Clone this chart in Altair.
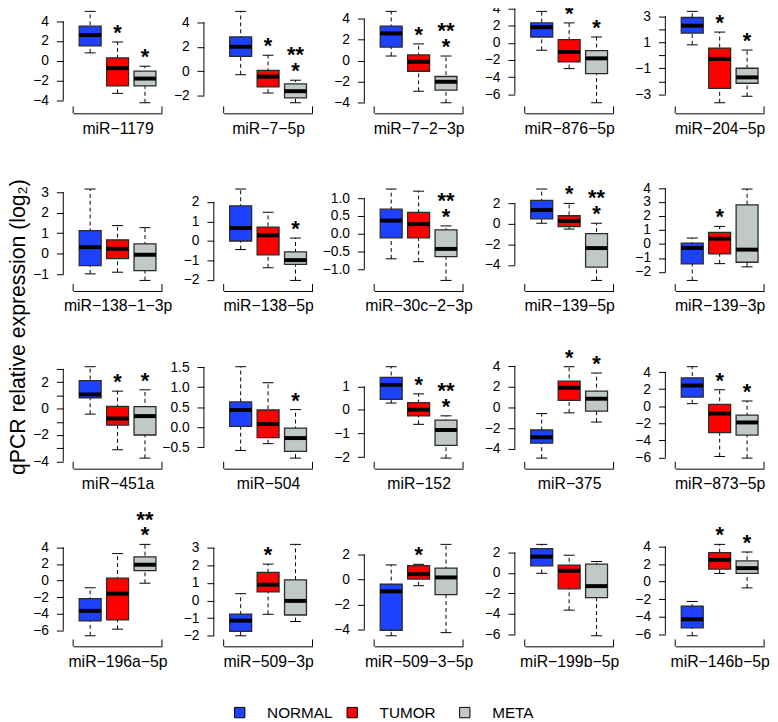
import altair as alt
import pandas as pd

NAMES = ["miR-1179", "miR-7-5p", "miR-7-2-3p", "miR-876-5p", "miR-204-5p",
         "miR-138-1-3p", "miR-138-5p", "miR-30c-2-3p", "miR-139-5p", "miR-139-3p",
         "miR-451a", "miR-504", "miR-152", "miR-375", "miR-873-5p",
         "miR-196a-5p", "miR-509-3p", "miR-509-3-5p", "miR-199b-5p", "miR-146b-5p"]

# [min, q1, median, q3, max]
NORMAL = [[0.8, 1.5, 2.6, 3.5, 5.0], [-0.3, 1.2, 2.0, 2.8, 4.9], [0.45, 1.3, 2.6, 3.3, 4.7],
          [-0.85, 0.7, 1.85, 2.35, 3.7], [0.8, 1.7, 2.27, 2.9, 3.37],
          [-0.98, -0.58, 0.32, 1.13, 3.15], [-0.44, 0.0, 0.66, 1.8, 2.66], [-0.71, -0.12, 0.37, 0.69, 1.26],
          [0.07, 0.5, 1.35, 2.3, 3.4], [-2.6, -1.42, -0.28, 0.07, 0.43],
          [-0.42, 0.82, 1.07, 2.12, 3.17], [-0.58, 0.02, 0.43, 0.63, 1.51], [0.29, 0.45, 1.06, 1.38, 1.83],
          [-4.89, -3.45, -2.88, -2.17, -0.58], [0.31, 1.08, 2.43, 3.32, 4.63],
          [-6.64, -4.86, -3.64, -2.17, -0.87], [-2.0, -1.75, -1.14, -0.77, 0.39], [-4.5, -4.06, -0.95, -0.37, 1.16],
          [-0.03, 0.7, 1.6, 2.37, 2.79], [-6.17, -5.26, -4.29, -2.78, -2.26]]
TUMOR = [[-3.3, -2.55, -0.75, 0.3, 1.9], [-1.8, -1.3, -0.45, 0.05, 1.3], [-2.9, -1.0, -0.1, 0.55, 1.6],
         [-3.0, -2.2, -1.05, 0.4, 2.35], [-3.65, -2.55, -0.28, 0.55, 1.78],
         [-0.9, -0.24, 0.24, 0.68, 1.37], [-1.37, -0.71, 0.29, 0.71, 1.47], [-0.79, -0.12, 0.27, 0.6, 1.2],
         [-0.5, -0.25, 0.3, 0.8, 2.0], [-1.4, -0.71, 0.38, 0.83, 1.26],
         [-3.12, -1.25, -0.75, 0.17, 1.32], [-0.41, -0.26, 0.08, 0.43, 1.11], [-0.61, -0.25, 0.01, 0.31, 0.68],
         [-0.51, 0.7, 1.92, 2.56, 3.96], [-5.87, -3.09, -0.85, 0.23, 1.93],
         [-5.85, -4.74, -1.58, 0.28, 3.24], [-0.78, 0.49, 0.9, 1.6, 2.07], [-0.5, 0.03, 0.42, 1.1, 1.21],
         [-3.62, -1.54, 0.22, 0.77, 1.73], [0.94, 1.43, 2.48, 3.31, 4.25]]
META = [[-4.25, -2.55, -1.8, -1.05, -0.55], [-2.6, -2.2, -1.65, -1.05, -0.75], [-4.0, -2.8, -2.0, -1.5, 0.45],
        [-7.0, -3.6, -1.8, -0.9, 0.7], [-3.15, -2.15, -1.7, -1.0, 0.4],
        [-1.3, -0.82, -0.05, 0.48, 1.27], [-2.02, -1.2, -0.98, -0.56, 0.15], [-1.32, -0.65, -0.43, 0.11, 0.22],
        [-5.5, -4.2, -2.35, -0.95, 0.07], [-1.63, -1.3, -0.4, 2.8, 3.93],
        [-3.75, -2.0, -0.57, 0.15, 1.42], [-0.77, -0.6, -0.27, -0.02, 0.44], [-2.04, -1.5, -0.85, -0.43, -0.25],
        [-1.4, -0.35, 0.86, 1.6, 3.35], [-6.06, -3.36, -1.89, -1.04, 0.62],
        [-0.32, 1.19, 1.9, 2.85, 4.35], [-1.19, -0.82, -0.02, 1.18, 3.19], [-4.25, -1.21, 0.16, 0.9, 2.8],
        [-6.12, -2.4, -1.28, 0.87, 1.12], [-0.71, 0.94, 1.54, 2.37, 3.38]]

# significance marks: 1 = "*", 2 = "*" with "**" above it
STAR_TUMOR = [1, 1, 1, 1, 1, 0, 0, 0, 1, 1, 1, 0, 1, 1, 1, 0, 1, 1, 0, 1]
STAR_META = [1, 2, 2, 1, 1, 0, 1, 2, 2, 0, 1, 1, 2, 1, 1, 2, 0, 0, 0, 1]

TICKS = [[-4, -2, 0, 2, 4], [-2, 0, 2, 4], [-4, -2, 0, 2, 4], [-6, -4, -2, 0, 2, 4], [-3, -2, -1, 0, 1, 2, 3],
         [-1, 0, 1, 2, 3], [-2, -1, 0, 1, 2], [-1, -0.5, 0, 0.5, 1], [-4, -2, 0, 2], [-2, -1, 0, 1, 2, 3, 4],
         [-4, -3, -2, -1, 0, 1, 2, 3], [-0.5, 0, 0.5, 1, 1.5], [-2, -1, 0, 1], [-4, -2, 0, 2, 4], [-6, -4, -2, 0, 2, 4],
         [-6, -4, -2, 0, 2, 4], [-2, -1, 0, 1, 2, 3], [-4, -2, 0, 2], [-6, -4, -2, 0, 2], [-6, -4, -2, 0, 2, 4]]
ONE_DECIMAL = {"miR-30c-2-3p", "miR-504"}
WIDE_AXIS_GAP = {"miR-7-5p", "miR-504"}   # panels whose y axis sits further from the boxes

GROUPS = ["NORMAL", "TUMOR", "META"]
COLORS = ["#1E40FF", "#FF0000", "#C0C8C8"]

W, H = 90, 100
FONT = "Liberation Sans"

legend = alt.Legend(orient="none", legendX=161, legendY=706, direction="horizontal", title=None,
                    symbolType="square", symbolSize=110, symbolStrokeColor="black", symbolStrokeWidth=1,
                    labelFont=FONT, labelFontSize=15.5, labelColor="black", labelOffset=20,
                    columnPadding=12, gridAlign="all", columns=3)


def panel(i):
    stats = [NORMAL[i], TUMOR[i], META[i]]
    stars = [0, STAR_TUMOR[i], STAR_META[i]]
    rows = []
    for g, (name, s, st) in enumerate(zip(GROUPS, stats, stars)):
        rows.append(dict(idx=g + 1, group=name, lo=s[0], q1=s[1], med=s[2], q3=s[3], hi=s[4],
                         s1="*" if st >= 1 else "", s2="**" if st >= 2 else ""))
    df = pd.DataFrame(rows)
    allv = [v for s in stats for v in s]
    vmin, vmax = min(allv), max(allv)
    r = vmax - vmin
    dom = [vmin - 0.04 * r, vmax + 0.04 * r]
    ticks = [t for t in TICKS[i] if dom[0] <= t <= dom[1]]
    xs = alt.Scale(domain=[0.38, 3.62], nice=False, zero=False)
    ys = alt.Scale(domain=dom, nice=False, zero=False)
    fmt = ".1f" if NAMES[i] in ONE_DECIMAL else "d"
    gap = 20 if NAMES[i] in WIDE_AXIS_GAP else 10
    label = NAMES[i].replace("-", "\u2212")
    xaxis = alt.Axis(title=label, labels=False, ticks=False, grid=False, domain=True, domainColor="black",
                     domainWidth=1, offset=7, titleFont=FONT, titleFontSize=16, titleFontWeight="normal",
                     titleColor="black", titlePadding=7)
    yaxis = alt.Axis(title=None, values=ticks, format=fmt, grid=False, domain=False, ticks=True, tickSize=7,
                     tickColor="black", tickWidth=1, labelFont=FONT, labelFontSize=14, labelColor="black",
                     labelPadding=8, offset=gap)

    def X(f):
        return alt.X(f, scale=xs, axis=xaxis)

    def Y(f):
        return alt.Y(f, scale=ys, axis=yaxis)

    base = alt.Chart(df)
    whisk = base.mark_rule(color="black", strokeWidth=1, strokeDash=[4, 3]).encode(
        x=X("idx:Q"), y=Y("lo:Q"), y2="hi:Q")
    caps = base.transform_calculate(cl="datum.idx - 0.2", cr="datum.idx + 0.2")
    cap_lo = caps.mark_rule(color="black", strokeWidth=1).encode(x=X("cl:Q"), x2="cr:Q", y=Y("lo:Q"))
    cap_hi = caps.mark_rule(color="black", strokeWidth=1).encode(x=X("cl:Q"), x2="cr:Q", y=Y("hi:Q"))
    boxes = base.transform_calculate(bl="datum.idx - 0.4", br="datum.idx + 0.4")
    box = boxes.mark_rect(stroke="#2a2a2a", strokeWidth=1.3).encode(
        x=X("bl:Q"), x2="br:Q", y=Y("q1:Q"), y2="q3:Q",
        color=alt.Color("group:N", scale=alt.Scale(domain=GROUPS, range=COLORS), legend=legend))
    med = boxes.mark_rule(color="black", strokeWidth=4).encode(x=X("bl:Q"), x2="br:Q", y=Y("med:Q"))
    star1 = base.transform_filter("datum.s1 != ''").mark_text(
        font=FONT, fontSize=22, fontWeight="bold", baseline="alphabetic", dy=-2, color="black"
    ).encode(x=X("idx:Q"), y=Y("hi:Q"), text="s1:N")
    star2 = base.transform_filter("datum.s2 != ''").mark_text(
        font=FONT, fontSize=22, fontWeight="bold", baseline="alphabetic", dy=-18, color="black"
    ).encode(x=X("idx:Q"), y=Y("hi:Q"), text="s2:N")
    tdf = pd.DataFrame({"t0": [ticks[0]], "t1": [ticks[-1]]})
    yline = alt.Chart(tdf).mark_rule(color="black", strokeWidth=1).encode(
        x=alt.value(-gap), y=Y("t0:Q"), y2="t1:Q")
    end_l = alt.Chart(tdf).mark_rule(color="black", strokeWidth=1).encode(
        x=alt.value(0), y=alt.value(H), y2=alt.value(H + 7))
    end_r = alt.Chart(tdf).mark_rule(color="black", strokeWidth=1).encode(
        x=alt.value(W), y=alt.value(H), y2=alt.value(H + 7))
    return alt.layer(whisk, cap_lo, cap_hi, box, med, star1, star2, yline, end_l, end_r).properties(
        width=W, height=H)


chart = alt.concat(*[panel(i) for i in range(len(NAMES))], columns=5,
                   spacing={"row": 80, "column": 62.5}, bounds="flush").properties(
    title=alt.TitleParams(text="qPCR relative expression (log\u2082)", orient="left", anchor="middle",
                          font=FONT, fontSize=21.5, fontWeight="normal", color="black", offset=3, dx=35),
    padding={"left": 0, "top": -11, "right": 0, "bottom": 0}
).configure_view(stroke=None)

chart.save("out.html", embed_options={"renderer": "svg", "actions": False})
